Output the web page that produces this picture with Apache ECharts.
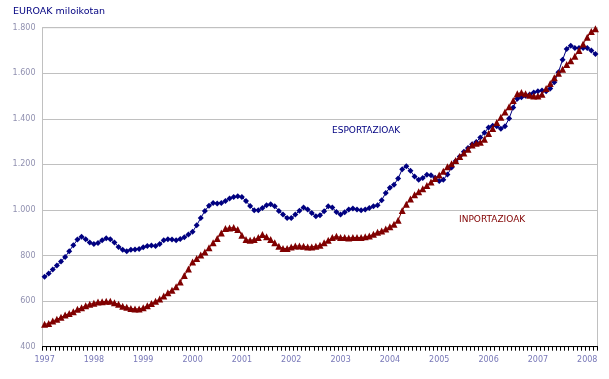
<!DOCTYPE html>
<html>
<head>
<meta charset="utf-8">
<script src="https://cdn.jsdelivr.net/npm/echarts@6/dist/echarts.min.js"></script>
<style>
html,body{margin:0;padding:0;background:#fff;}
#c{width:609px;height:379px;}
</style>
</head>
<body>
<div id="c"></div>
<script>
// Years shown on the category axis (monthly data Jan 1997 – Mar 2008)
const years = [1997,1998,1999,2000,2001,2002,2003,2004,2005,2006,2007,2008];
const monthCount = 135;
const yTicks = [400,600,800,1000,1200,1400,1600,1800];
const yTickLabels = ['400','600','800','1.000','1.200','1.400','1.600','1.800'];

// ESPORTAZIOAK (exports), monthly, million euros
const esportazioak = [
 707,721,739,756,774,794,819,845,870,882,872,857,
 851,855,867,876,872,857,838,825,819,825,827,829,
 837,842,844,842,851,867,872,870,867,873,880,892,
 904,933,965,996,1019,1031,1028,1031,1039,1050,1057,1060,
 1057,1039,1018,999,999,1009,1021,1025,1016,996,980,965,
 965,980,997,1011,1002,987,972,977,994,1016,1011,991,
 980,990,1002,1006,1002,999,1002,1009,1016,1021,1043,1075,
 1098,1111,1138,1179,1192,1172,1147,1133,1140,1155,1152,1142,
 1127,1133,1156,1186,1215,1235,1256,1272,1288,1298,1318,1339,
 1362,1370,1367,1357,1367,1402,1450,1488,1495,1501,1507,1516,
 1521,1524,1521,1533,1561,1605,1659,1707,1721,1711,1711,1711,
 1711,1700,1685
];

// INPORTAZIOAK (imports), monthly, million euros
const inportazioak = [
 498,502,513,520,529,539,546,553,564,571,580,586,
 591,596,597,599,599,593,586,578,573,568,566,566,
 571,580,590,600,609,622,637,648,663,684,712,741,
 772,787,802,816,834,856,875,899,919,921,923,914,
 889,870,867,870,879,892,882,870,856,841,831,831,
 838,842,842,841,838,838,841,845,856,867,879,885,
 879,879,877,879,879,879,882,886,894,902,908,917,
 926,937,955,998,1025,1048,1067,1080,1093,1107,1123,1138,
 1153,1170,1190,1203,1217,1235,1250,1267,1285,1293,1297,1310,
 1336,1358,1384,1407,1430,1453,1480,1510,1516,1510,1503,1500,
 1500,1508,1533,1555,1580,1600,1618,1638,1655,1675,1700,1728,
 1758,1783,1795
];

const categories = [];
for (let i = 0; i < monthCount; i++) {
  const y = years[Math.floor(i / 12)];
  const m = (i % 12) + 1;
  categories.push(y + '-' + (m < 10 ? '0' + m : m));
}

const chart = echarts.init(document.getElementById('c'), null, {renderer: 'canvas'});
const font = 'DejaVu Sans';
chart.setOption({
  animation: false,
  backgroundColor: '#ffffff',
  title: {
    text: 'EUROAK miloikotan',
    left: 13, top: 7, padding: 0,
    textStyle: {fontFamily: font, fontSize: 9.5, fontWeight: 'normal', color: '#000080'}
  },
  grid: {
    left: 42.5, right: 11.5, top: 27.7, bottom: 32.3,
    show: true, borderColor: '#c0c0c0', borderWidth: 1, backgroundColor: 'transparent'
  },
  xAxis: {
    type: 'category',
    data: categories,
    boundaryGap: true,
    axisLine: {show: true, lineStyle: {color: '#000000', width: 1}},
    axisTick: {show: true, interval: 0, length: 4, inside: false, lineStyle: {color: '#000000'}},
    axisLabel: {
      interval: 11,
      margin: 9,
      fontFamily: font, fontSize: 8, color: '#7878b8',
      formatter: v => v.slice(0, 4)
    },
    splitLine: {show: false}
  },
  yAxis: {
    type: 'value',
    min: 400, max: 1800, interval: 200,
    axisLine: {show: true, lineStyle: {color: '#c0c0c0'}},
    axisTick: {show: false},
    axisLabel: {
      margin: 7, fontFamily: font, fontSize: 8, color: '#9090b0',
      formatter: v => yTickLabels[yTicks.indexOf(v)] || String(v)
    },
    splitLine: {show: true, lineStyle: {color: '#c0c0c0', width: 1}}
  },
  series: [
    {
      name: 'ESPORTAZIOAK', type: 'line', data: esportazioak,
      symbol: 'diamond', symbolSize: 6, showAllSymbol: true,
      lineStyle: {color: '#000080', width: 1},
      itemStyle: {color: '#000080', borderWidth: 0},
      z: 2
    },
    {
      name: 'INPORTAZIOAK', type: 'line', data: inportazioak,
      symbol: 'triangle', symbolSize: 7, showAllSymbol: true,
      lineStyle: {color: '#800000', width: 1},
      itemStyle: {color: '#800000', borderWidth: 0},
      z: 3
    }
  ],
  graphic: [
    {type: 'text', left: 332, top: 126,
     style: {text: 'ESPORTAZIOAK', fill: '#000080', font: '9px "DejaVu Sans"'}},
    {type: 'text', left: 459, top: 215,
     style: {text: 'INPORTAZIOAK', fill: '#800000', font: '9px "DejaVu Sans"'}}
  ]
});
</script>
</body>
</html>
